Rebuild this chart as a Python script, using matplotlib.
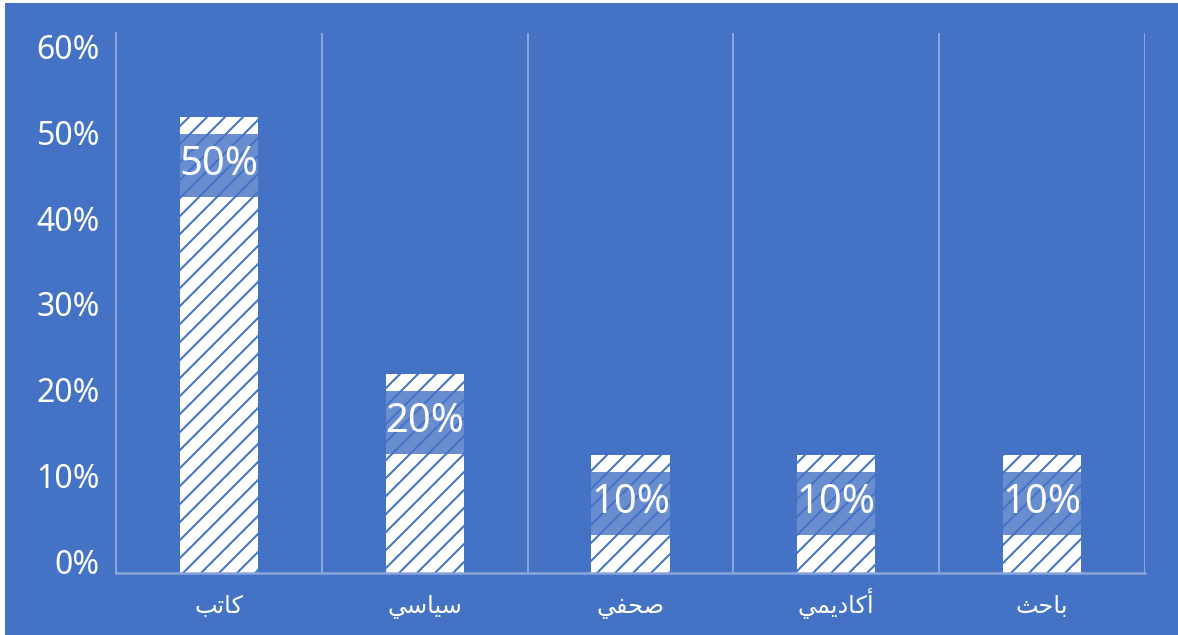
import matplotlib
matplotlib.use('Agg')
import matplotlib.pyplot as plt
from matplotlib.patches import Rectangle
from matplotlib.transforms import ScaledTranslation, offset_copy

# data
categories = ['كاتب', 'سياسي', 'صحفي', 'أكاديمي', 'باحث']
bar_heights = [0.532, 0.232, 0.138, 0.138, 0.138]
bar_labels = ['50%', '20%', '10%', '10%', '10%']
yticks = [0, 0.1, 0.2, 0.3, 0.4, 0.5, 0.6]
ytick_labels = ['0%', '10%', '20%', '30%', '40%', '50%', '60%']

BG = '#4472C4'
GRID = '#8AA5DB'

# matplotlib has no arabic shaping, so pick presentation forms by hand
FORMS = {  # isolated, final, initial, medial
    'ا': ('\uFE8D', '\uFE8E', None, None),
    'أ': ('\uFE83', '\uFE84', None, None),
    'د': ('\uFEA9', '\uFEAA', None, None),
    'ب': ('\uFE8F', '\uFE90', '\uFE91', '\uFE92'),
    'ت': ('\uFE95', '\uFE96', '\uFE97', '\uFE98'),
    'ث': ('\uFE99', '\uFE9A', '\uFE9B', '\uFE9C'),
    'ح': ('\uFEA1', '\uFEA2', '\uFEA3', '\uFEA4'),
    'س': ('\uFEB1', '\uFEB2', '\uFEB3', '\uFEB4'),
    'ص': ('\uFEB9', '\uFEBA', '\uFEBB', '\uFEBC'),
    'ف': ('\uFED1', '\uFED2', '\uFED3', '\uFED4'),
    'ك': ('\uFED9', '\uFEDA', '\uFEDB', '\uFEDC'),
    'م': ('\uFEE1', '\uFEE2', '\uFEE3', '\uFEE4'),
    'ي': ('\uFEF1', '\uFEF2', '\uFEF3', '\uFEF4'),
}


def shape(word):
    out = []
    for i, ch in enumerate(word):
        prev_joins = i > 0 and FORMS[word[i - 1]][2] is not None
        next_joins = i < len(word) - 1 and FORMS[ch][2] is not None
        iso, fin, ini, med = FORMS[ch]
        if prev_joins and next_joins:
            out.append(med)
        elif prev_joins:
            out.append(fin)
        elif next_joins:
            out.append(ini)
        else:
            out.append(iso)
    return ''.join(reversed(out))


DPI = 108  # hatch unit is DPI pixels, '//' then gives ~9px spacing


def px(v):
    # pixels -> points
    return v * 72 / DPI


plt.rcParams['hatch.linewidth'] = px(2)
fig = plt.figure(figsize=(1178 / DPI, 635 / DPI), dpi=DPI, facecolor='white')
fig.patches.append(Rectangle((5 / 1178, 0), 1, 632 / 635, transform=fig.transFigure,
                             facecolor=BG, edgecolor='none', zorder=-10))

ax = fig.add_axes([116 / 1178, 62 / 635, 1029 / 1178, 540 / 635])
ax.set_facecolor('none')

x = list(range(len(categories)))
width = 0.38
ax.bar(x, bar_heights, width=width, color='white', edgecolor=BG, linewidth=0,
       hatch='//', zorder=2)

ax.set_xlim(-0.5, len(categories) - 0.5)
ax.set_ylim(0, 0.63)

# vertical separators between categories
for b in [i + 0.5 for i in range(len(categories))]:
    ax.axvline(b, color=GRID, lw=px(2), zorder=1)

for s in ['top', 'right']:
    ax.spines[s].set_visible(False)
ax.spines['left'].set_color(GRID)
ax.spines['left'].set_linewidth(px(2))
ax.spines['bottom'].set_color(GRID)
ax.spines['bottom'].set_linewidth(px(2.5))

ax.set_yticks(yticks)
ax.set_yticklabels(ytick_labels, fontsize=px(32), color='white', family=['Noto Sans', 'DejaVu Sans'])
ax.tick_params(axis='y', length=0, pad=px(16))
up = ScaledTranslation(0, 12 / DPI, fig.dpi_scale_trans)
for lab in ax.get_yticklabels():
    lab.set_transform(lab.get_transform() + up)

ax.set_xticks(x)
ax.set_xticklabels([shape(c) for c in categories], fontsize=px(24), color='white', family='DejaVu Sans')
ax.tick_params(axis='x', length=0, pad=px(40))
for lab in ax.get_xticklabels():
    lab.set_verticalalignment('baseline')

# value labels on a translucent box inside the bar
ppu = ax.transData.transform((0, 1))[1] - ax.transData.transform((0, 0))[1]
box_h = 63 / ppu
box_trans = offset_copy(ax.transData, fig=fig, x=0, y=-80, units='dots')
for xi, h, lab in zip(x, bar_heights, bar_labels):
    ax.add_patch(Rectangle((xi - width / 2, h), width, box_h, transform=box_trans,
                           facecolor=BG, alpha=0.8, edgecolor='none', zorder=3))
    ax.annotate(lab, xy=(xi, h), xytext=(0, px(-48)), textcoords='offset points',
                ha='center', va='center', fontsize=px(40), color='white',
                family=['Noto Sans', 'DejaVu Sans'], zorder=4)

fig.savefig('out.png', dpi=DPI, facecolor=fig.get_facecolor())
